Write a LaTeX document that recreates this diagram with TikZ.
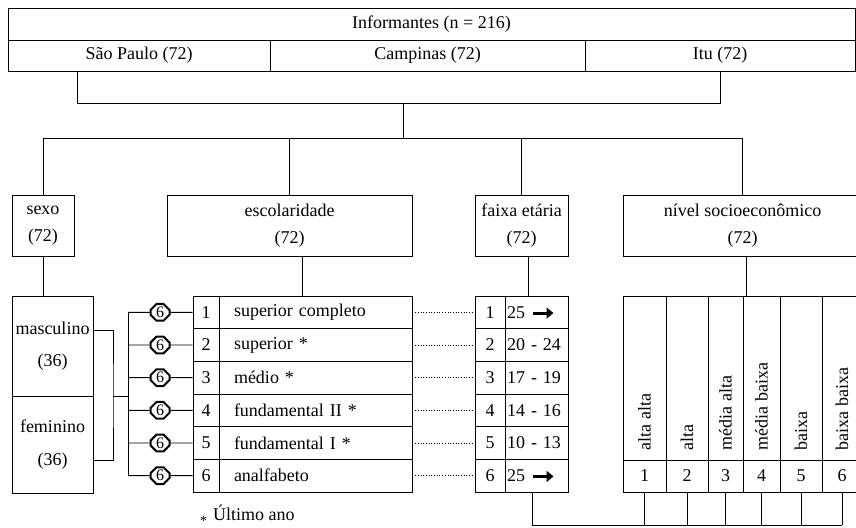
\documentclass[tikz,border=0pt]{standalone}
\usepackage{fontspec}
\setmainfont{Liberation Serif}
\usetikzlibrary{shapes.misc,arrows.meta}

\newcommand{\seta}{\tikz[baseline=-0.6ex]\draw[line width=3pt,-{Triangle[length=7pt,width=11pt]}] (0pt,0pt) -- (21pt,0pt);}

\tikzset{
	txt/.style={font=\fontsize{18}{27}\selectfont},
	box/.style={txt, draw, line width=0.9pt, align=center},
	cell/.style={txt, draw, line width=0.9pt, inner sep=0pt, minimum height=32.67pt},
	lab/.style={minimum width=193pt, text width=163pt, inner xsep=15pt, align=left},
	val/.style={minimum width=63pt, text width=59pt, inner xsep=2pt, align=left},
	oct/.style={draw, chamfered rectangle, chamfered rectangle xsep=3pt, chamfered rectangle ysep=3pt,
		line width=2pt, minimum width=19pt, minimum height=12pt, inner sep=0pt, font=\fontsize{16}{16}\selectfont},
	link/.style={line width=0.9pt},
	dots/.style={dotted, line width=0.7pt},
}

\begin{document}
\begin{tikzpicture}[x=1pt,y=-1pt]
	\path[use as bounding box, clip] (0,0) rectangle (856,527);
	% informantes
	\node[box, minimum width=847pt, minimum height=32pt] (inf) at (431.5,24) {Informantes (n = 216)};
	\node[box, minimum width=262pt, minimum height=31pt] (sp) at (139,55.5) {São Paulo (72)};
	\node[box, minimum width=315pt, minimum height=31pt] (camp) at (427.5,55.5) {Campinas (72)};
	\node[box, minimum width=270pt, minimum height=31pt] (itu) at (720,55.5) {Itu (72)};
	\coordinate (bl) at (77,103);
	\coordinate (hub) at (403,138);
	\draw[link] (bl |- sp.south) -- (bl) -| (itu.south);
	\draw[link] (hub |- bl) -- (hub);
	% variaveis
	\node[box, minimum width=62pt, minimum height=61pt] (sexo) at (43,225.5) {sexo\\(72)};
	\node[box, minimum width=245pt, minimum height=61pt] (escol) at (289.5,225.5) {escolaridade\\(72)};
	\node[box, minimum width=93pt, minimum height=61pt, inner xsep=2pt] (faixa) at (521.5,225.5) {faixa etária\\(72)};
	\node[box, minimum width=239pt, minimum height=61pt] (niv) at (742.5,225.5) {nível socioeconômico\\(72)};
	\draw[link] (hub -| sexo.north) -- (hub -| niv.north);
	\foreach \n in {sexo,escol,faixa,niv}
		\draw[link] (hub -| \n.north) -- (\n.north);
	% sexo
	\node[box, minimum width=81pt, minimum height=100pt, inner xsep=1pt] (masc) at (52.5,346) {masculino\\[5pt](36)};
	\node[box, minimum width=81pt, minimum height=97pt, inner xsep=1pt] (fem) at (52.5,444.5) {feminino\\[6pt](36)};
	\draw[link] (sexo.south) -- (sexo.south |- masc.north);
	\coordinate (sx) at (113,396);
	\coordinate (sb) at (128,396);
	\draw[link] ([yshift=16pt]masc.east) -| (sx) |- ([yshift=-16pt]fem.east);
	\draw[link] (sx) -- (sb);
	% escolaridade x faixa etaria
	\foreach \i/\t/\v in {1/superior completo/25 \seta, 2/superior */20 - 24, 3/médio */17 - 19,
		4/fundamental II */14 - 16, 5/fundamental I */10 - 13, 6/analfabeto/25 \seta} {
		\pgfmathsetmacro\ry{296+(\i-0.5)*32.67}
		\node[cell, minimum width=26pt] (en\i) at (206,\ry) {\i};
		\node[cell, lab] (el\i) at (315.5,\ry) {\t};
		\node[oct] (o\i) at (160,\ry) {6};
		\draw[link] (sb |- o\i) -- (o\i) -- (en\i);
		\node[cell, minimum width=30pt] (fn\i) at (490,\ry) {\i};
		\node[cell, val] (fv\i) at (536.5,\ry) {\v};
		\draw[dots] (el\i) -- (fn\i);
	}
	\draw[link] (sb |- o1) -- (sb |- o6);
	\coordinate (etop) at (302.5,296);
	\coordinate (ftop) at (528,296);
	\coordinate (ntop) at (746,296);
	\draw[link] (etop |- escol.south) -- (etop);
	\draw[link] (ftop |- faixa.south) -- (ftop);
	\draw[link] (ntop |- niv.south) -- (ntop);
	% nivel socioeconomico
	\foreach \i/\a/\b/\t in {1/623/666/alta alta, 2/666/708/alta, 3/708/743/média alta,
		4/743/780/média baixa, 5/780/822/baixa, 6/822/862/baixa baixa} {
		\pgfmathsetmacro\cx{(\a+\b)/2}
		\pgfmathsetmacro\cw{\b-\a}
		\node[cell, minimum width=\cw pt, minimum height=164pt] (nc\i) at (\cx,378) {};
		\node[txt, rotate=90, anchor=west, inner sep=0pt] (nl\i) at ([yshift=10pt]nc\i.south) {\t};
		\node[cell, minimum width=\cw pt, minimum height=32pt] (nn\i) at (\cx,476) {\i};
	}
	\coordinate (lb) at (532,525);
	\draw[link] (lb |- fv6.south) -- (lb) -- (lb -| nn6.south);
	\foreach \i in {1,...,6}
		\draw[link] (nn\i.south) -- (nn\i.south |- lb);
	\node[txt, anchor=west, inner sep=0pt] (nota) at (200,515) {\raisebox{-5pt}{\fontsize{14}{14}\selectfont *}\hspace{6pt}Último ano};
\end{tikzpicture}
\end{document}
